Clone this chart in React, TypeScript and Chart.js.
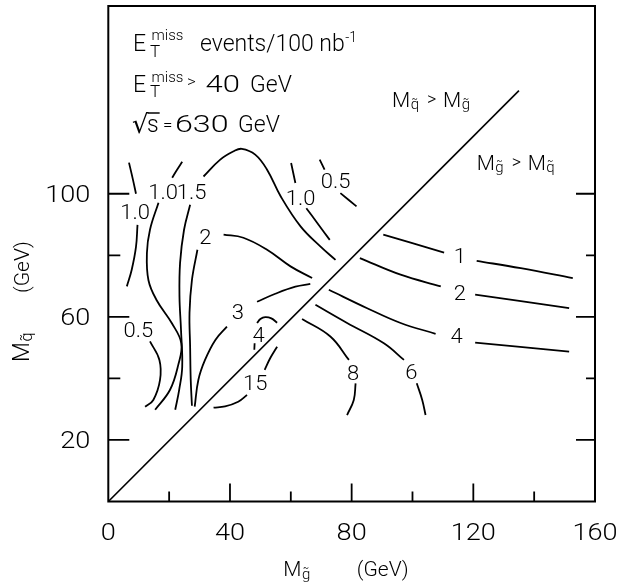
import React, { useEffect, useRef } from 'react';
import { Chart, registerables } from 'chart.js';

Chart.register(...registerables);

type Pt = [number, number];

// ---- axes ----
const xMin = 0;
const xMax = 160;
const yMin = 0;
const yMax = 161;
const xTickValues = [20, 40, 60, 80, 100, 120, 140];
const xTickLabels = [0, 40, 80, 120, 160];
const yTickValues = [20, 40, 60, 80, 100];
const yTickLabels = [20, 60, 100];

// ---- contour segments (x = gluino mass, y = squark mass, GeV) ----
const c05Left: Pt[] = [[13.7, 52.0], [16.8, 46.0], [17.0, 39.5], [14.8, 33.0], [12.1, 30.8]];
const c10aUpper: Pt[] = [[6.8, 110.1], [8.1, 104.6], [9.1, 100.0]];
const c10aLower: Pt[] = [[9.6, 89.9], [9.1, 82.7], [7.7, 75.3], [6.1, 69.9]];
const c10bUpper: Pt[] = [[24.3, 110.4], [22.6, 107.8], [21.0, 105.2]];
const c10bLower: Pt[] = [[16.5, 97.1], [13.7, 88.3], [12.7, 80.8], [13.2, 71.9], [15.9, 65.4], [20.9, 57.9], [24.0, 51.4], [23.0, 44.4], [20.3, 36.3], [15.4, 29.8]];
const c15Upper: Pt[] = [[31.3, 105.6], [36.8, 111.1], [41.2, 113.8], [43.9, 114.6], [48.3, 112.7], [52.2, 107.8], [56.7, 99.1], [63.2, 89.4], [69.7, 82.9], [74.7, 78.5]];
const c15Lower: Pt[] = [[26.9, 96.4], [24.9, 88.3], [23.6, 77.6], [23.4, 66.6], [23.9, 55.8], [24.3, 43.8], [23.3, 36.3], [22.0, 29.8]];
const c2Right: Pt[] = [[37.9, 86.7], [44.4, 85.7], [52.2, 81.8], [59.9, 76.4], [67.0, 72.6]];
const c2Lower: Pt[] = [[29.3, 81.8], [27.5, 72.0], [26.7, 61.3], [26.9, 50.3], [27.1, 39.5], [27.5, 31.1]];
const c3Right: Pt[] = [[48.9, 64.9], [54.9, 67.5], [61.5, 69.8], [66.4, 70.7]];
const c3Lower: Pt[] = [[39.0, 56.8], [35.2, 52.5], [31.8, 46.0], [29.6, 39.5], [28.4, 30.8]];
const c4Upper: Pt[] = [[48.9, 58.0], [50.0, 59.3], [51.6, 59.9], [53.6, 59.5], [55.5, 58.1]];
const c4Lower: Pt[] = [[48.1, 51.4], [48.0, 49.3]];
const c15hLower: Pt[] = [[34.6, 30.5], [38.4, 30.9], [42.7, 32.4], [45.6, 34.6]];
const c15hUpper: Pt[] = [[51.4, 42.8], [53.3, 46.7], [55.5, 50.3]];
const c10cUpper: Pt[] = [[60.1, 110.0], [61.5, 103.5]];
const c10cLower: Pt[] = [[65.1, 95.3], [68.7, 90.5], [72.8, 85.0]];
const c05rUpper: Pt[] = [[69.5, 111.1], [71.1, 107.8]];
const c05rLower: Pt[] = [[76.3, 100.2], [81.6, 95.9]];
const r1Left: Pt[] = [[90.4, 86.7], [99.4, 84.1], [110.4, 80.9]];
const r1Right: Pt[] = [[121.1, 78.2], [135.6, 75.8], [152.7, 72.6]];
const r2Left: Pt[] = [[82.7, 79.1], [96.1, 73.7], [109.3, 69.9]];
const r2Right: Pt[] = [[120.6, 67.2], [134.5, 65.3], [151.5, 62.8]];
const r4Left: Pt[] = [[72.5, 68.8], [85.1, 62.8], [96.1, 58.0], [107.6, 54.5]];
const r4Right: Pt[] = [[120.6, 51.6], [134.5, 50.3], [151.5, 48.7]];
const c6Upper: Pt[] = [[68.1, 63.9], [78.5, 58.0], [90.6, 51.4], [97.2, 46.0]];
const c6Lower: Pt[] = [[101.4, 38.4], [103.2, 33.0], [104.3, 28.1]];
const c8Upper: Pt[] = [[63.7, 59.3], [73.0, 53.6], [79.1, 46.0]];
const c8Lower: Pt[] = [[81.3, 38.4], [80.7, 33.0], [78.5, 28.1]];
const diagonal: Pt[] = [[0, 0], [135, 133.5]];

const contourSegments: Pt[][] = [
  c05Left, c10aUpper, c10aLower, c10bUpper, c10bLower, c15Upper, c15Lower,
  c2Right, c2Lower, c3Right, c3Lower, c4Upper, c4Lower, c15hLower, c15hUpper,
  c10cUpper, c10cLower, c05rUpper, c05rLower, r1Left, r1Right, r2Left, r2Right,
  r4Left, r4Right, c6Upper, c6Lower, c8Upper, c8Lower,
];

// ---- contour labels: [text, x, y] ----
const contourLabels: [string, number, number][] = [
  ['1.0', 8.8, 94.2], ['1.0', 18.0, 100.7], ['1.5', 27.4, 100.7], ['2', 31.9, 86.1],
  ['0.5', 9.9, 55.8], ['3', 42.6, 61.7], ['4', 49.4, 54.1], ['15', 48.3, 38.4],
  ['1.0', 63.2, 98.6], ['0.5', 74.7, 104.0], ['1', 115.6, 79.8], ['2', 115.6, 67.9],
  ['4', 114.5, 53.8], ['6', 99.6, 42.2], ['8', 80.5, 41.9],
];

const FAM = 'Roboto, "DejaVu Sans", sans-serif';
const f = (size: number) => `300 ${size}px ${FAM}`;

// text with optional horizontal stretch
function st(ctx: CanvasRenderingContext2D, s: string, x: number, y: number, size: number, sx = 1, align: 'left' | 'center' | 'right' = 'left') {
  ctx.font = f(size);
  const w = ctx.measureText(s).width * sx;
  let x0 = x;
  if (align === 'center') x0 = x - w / 2;
  else if (align === 'right') x0 = x - w;
  ctx.save();
  ctx.translate(x0, y);
  ctx.scale(sx, 1);
  ctx.textAlign = 'left';
  ctx.fillText(s, 0, 0);
  ctx.restore();
  return w;
}

function drawMSub(ctx: CanvasRenderingContext2D, x: number, y: number, sub: string, big: number, small: number, dy: number) {
  const w = st(ctx, 'M', x, y, big);
  st(ctx, sub + '\u0303', x + w + 0.5, y + dy, small);
  ctx.font = f(small);
  return w + 0.5 + ctx.measureText(sub).width;
}

function drawE(ctx: CanvasRenderingContext2D, x: number, b: number, supDy: number, subDy: number) {
  st(ctx, 'E', x, b, 23);
  st(ctx, 'miss', x + 18.5, b + supDy, 15);
  st(ctx, 'T', x + 17, b + subDy, 17);
}

const decorPlugin = {
  id: 'decor',
  afterDraw(chart: any) {
    const ctx: CanvasRenderingContext2D = chart.ctx;
    const xs = chart.scales.x;
    const ys = chart.scales.y;
    const { left, right, top, bottom } = chart.chartArea;
    ctx.save();
    ctx.fillStyle = '#000';
    ctx.strokeStyle = '#000';
    ctx.lineCap = 'butt';
    ctx.textBaseline = 'alphabetic';

    // frame
    ctx.lineWidth = 2;
    ctx.strokeRect(left, top, right - left, bottom - top);

    // ticks
    ctx.lineWidth = 1.8;
    ctx.beginPath();
    xTickValues.forEach((v) => {
      const px = xs.getPixelForValue(v);
      const len = v % 40 === 0 ? 18 : 10;
      ctx.moveTo(px, bottom);
      ctx.lineTo(px, bottom - len);
    });
    yTickValues.forEach((v) => {
      const py = ys.getPixelForValue(v);
      const major = v % 40 === 20;
      ctx.moveTo(left, py);
      ctx.lineTo(left + (major ? 21 : 12), py);
      ctx.moveTo(right, py);
      ctx.lineTo(right - (major ? 19 : 9), py);
    });
    ctx.stroke();

    // tick labels
    xTickLabels.forEach((v) => {
      st(ctx, String(v), xs.getPixelForValue(v), bottom + 38.5, 23, 1.18, 'center');
    });
    yTickLabels.forEach((v) => {
      st(ctx, String(v), left - 18, ys.getPixelForValue(v) + 8.5, 23, 1.18, 'right');
    });

    // contour labels
    contourLabels.forEach(([t, x, y]) => {
      st(ctx, t, xs.getPixelForValue(x), ys.getPixelForValue(y) + 7, 20, 1.1, 'center');
    });

    // axis titles
    drawMSub(ctx, 283.3, bottom + 74, 'g', 21, 15, 3);
    st(ctx, '(GeV)', 356.7, bottom + 74, 21);

    ctx.save();
    ctx.translate(29, 362);
    ctx.rotate(-Math.PI / 2);
    drawMSub(ctx, 0, 0, 'q', 23, 16, 3);
    st(ctx, '(GeV)', 69, 0, 21);
    ctx.restore();

    // header annotations
    const hx = left + 24.7;
    const b1 = top + 45;
    drawE(ctx, hx, b1, -11, 6);
    const w1 = st(ctx, 'events/100 nb', hx + 67, b1, 23);
    st(ctx, '-1', hx + 67 + w1 + 0.5, b1 - 9, 14);

    const b2 = top + 86;
    drawE(ctx, hx, b2, -10, 5);
    st(ctx, '>', hx + 54, b2 - 5, 17);
    st(ctx, '40', hx + 72.5, b2, 23, 1.35);
    st(ctx, 'GeV', hx + 117, b2, 23);

    const b3 = top + 126;
    ctx.font = `26px "DejaVu Sans", sans-serif`;
    ctx.fillText('\u221A', hx - 1, b3 + 1);
    const sqw = ctx.measureText('\u221A').width;
    const sw = st(ctx, 's', hx + 14, b3, 23);
    ctx.lineWidth = 1.5;
    ctx.beginPath();
    ctx.moveTo(hx - 1 + sqw - 1, b3 - 19);
    ctx.lineTo(hx + 14 + sw + 1, b3 - 19);
    ctx.stroke();
    st(ctx, '=', hx + 30, b3 - 2, 17);
    st(ctx, '630', hx + 42, b3, 23, 1.4);
    st(ctx, 'GeV', hx + 105, b3, 23);

    // region labels
    const rx1 = xs.getPixelForValue(93.3);
    const rb1 = ys.getPixelForValue(128.2);
    drawMSub(ctx, rx1, rb1, 'q', 21, 15, 2);
    st(ctx, '>', rx1 + 35, rb1 - 2, 18);
    drawMSub(ctx, rx1 + 51, rb1, 'g', 21, 15, 2);

    const rx2 = xs.getPixelForValue(121.1);
    const rb2 = ys.getPixelForValue(107.8);
    drawMSub(ctx, rx2, rb2, 'g', 21, 15, 2);
    st(ctx, '>', rx2 + 35, rb2 - 2, 18);
    drawMSub(ctx, rx2 + 51, rb2, 'q', 21, 15, 2);

    ctx.restore();
  },
};

export default function App() {
  const ref = useRef<HTMLCanvasElement | null>(null);
  useEffect(() => {
    if (!ref.current) return;
    const datasets: any[] = contourSegments.map((seg) => ({
      data: seg.map(([x, y]) => ({ x, y })),
      showLine: true,
      borderColor: '#000',
      borderWidth: 1.8,
      pointRadius: 0,
      tension: 0.4,
      fill: false,
    }));
    datasets.push({
      data: diagonal.map(([x, y]) => ({ x, y })),
      showLine: true,
      borderColor: '#000',
      borderWidth: 1.6,
      pointRadius: 0,
      tension: 0,
      fill: false,
    });
    const chart = new Chart(ref.current, {
      type: 'scatter',
      data: { datasets },
      options: {
        responsive: false,
        animation: false,
        events: [],
        layout: { padding: { left: 108.3, right: 24, top: 6, bottom: 84.5 } },
        plugins: { legend: { display: false }, tooltip: { enabled: false } },
        scales: {
          x: { type: 'linear', min: xMin, max: xMax, display: false },
          y: { type: 'linear', min: yMin, max: yMax, display: false },
        },
      },
      plugins: [decorPlugin],
    });
    return () => chart.destroy();
  }, []);
  return (
    <div style={{ position: 'absolute', left: 0, top: 0, width: 619, height: 586, background: '#fff' }}>
      <canvas ref={ref} width={619} height={586} style={{ display: 'block' }} />
    </div>
  );
}
